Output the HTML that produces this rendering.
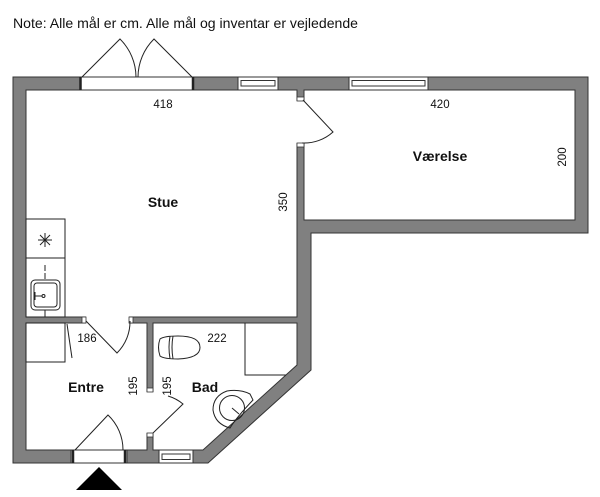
<!DOCTYPE html>
<html><head><meta charset="utf-8"><style>
html,body{margin:0;padding:0;background:#fff;}
svg{display:block;}
text{font-family:"Liberation Sans",sans-serif;fill:#111;}
</style></head><body>
<svg width="600" height="497" viewBox="0 0 600 497" xmlns="http://www.w3.org/2000/svg">
<rect width="600" height="497" fill="#fff"/>
<text x="13" y="28" font-size="14" textLength="345" lengthAdjust="spacingAndGlyphs">Note: Alle mål er cm. Alle mål og inventar er vejledende</text>

<!-- outer wall mass -->
<path d="M13,77 L588,77 L588,233 L311,233 L311,370 L208,463 L13,463 Z" fill="#808080" stroke="#333" stroke-width="1"/>

<!-- rooms -->
<g fill="#fff" stroke="#333" stroke-width="1">
<rect x="304" y="90" width="271" height="130"/>
<rect x="26" y="90" width="271" height="227"/>
<rect x="26" y="323" width="121" height="127"/>
<path d="M153,323 L297,323 L297,365 L203,450 L153,450 Z"/>
</g>

<!-- openings in interior walls -->
<g fill="#fff" stroke="none">
<rect x="296.5" y="101" width="8" height="42"/>
<rect x="86" y="316.5" width="43" height="7"/>
<rect x="146.5" y="392" width="7" height="41"/>
</g>
<!-- jambs -->
<g fill="#fff" stroke="#333" stroke-width="0.8">
<rect x="297" y="97" width="7" height="4"/>
<rect x="297" y="143" width="7" height="4"/>
<rect x="82" y="317" width="4" height="6"/>
<rect x="129" y="317" width="4" height="6"/>
<rect x="147" y="388" width="6" height="4"/>
<rect x="147" y="433" width="6" height="4"/>
</g>

<!-- top double door frame -->
<rect x="81" y="77" width="112" height="13" fill="#fff" stroke="#333" stroke-width="1"/>
<line x1="80.5" y1="77" x2="80.5" y2="90" stroke="#222" stroke-width="2.5"/>
<line x1="193" y1="77" x2="193" y2="90" stroke="#222" stroke-width="2.5"/>
<!-- windows -->
<g fill="#fff" stroke="#333" stroke-width="1">
<rect x="238" y="77" width="40" height="13"/>
<rect x="241" y="80.5" width="34" height="5.5"/>
<rect x="349" y="77" width="79" height="13"/>
<rect x="352" y="80.5" width="73" height="5.5"/>
<rect x="159" y="450" width="34" height="13"/>
<rect x="162" y="454" width="28" height="5.5"/>
</g>
<!-- entry door frame -->
<rect x="71" y="450" width="56" height="13" fill="#fff" stroke="#333" stroke-width="1"/>
<line x1="73" y1="450" x2="73" y2="463" stroke="#222" stroke-width="2.5"/>
<line x1="125" y1="450" x2="125" y2="463" stroke="#222" stroke-width="2.5"/>

<!-- door swings -->
<g fill="none" stroke="#222" stroke-width="1">
<path d="M82,77 L120,39 A54,54 0 0,1 136,77"/>
<path d="M192,77 L154,39 A54,54 0 0,0 138,77"/>
<path d="M303,100 L333,132 A43,43 0 0,1 302,143"/>
<path d="M86,321 L117,353 A44,44 0 0,0 130,321"/>
<path d="M75,450 L108,415 A48,48 0 0,1 123,450"/>
<path d="M153,433 L183,404 A42,42 0 0,0 168,396"/>
</g>

<!-- Entre cabinet -->
<g fill="none" stroke="#222" stroke-width="1">
<rect x="26" y="323" width="39" height="39"/>
<line x1="67" y1="324" x2="72" y2="358"/>
</g>

<!-- kitchen -->
<g fill="none" stroke="#222" stroke-width="1">
<rect x="26" y="219" width="39" height="39"/>
<rect x="26" y="258" width="39" height="59"/>
<line x1="38" y1="240" x2="52" y2="240"/>
<line x1="45" y1="233" x2="45" y2="247"/>
<line x1="40" y1="235" x2="50" y2="245"/>
<line x1="50" y1="235" x2="40" y2="245"/>
<line x1="45" y1="265" x2="45" y2="271"/>
<line x1="45" y1="273" x2="45" y2="279"/>
<rect x="31" y="280" width="29" height="30" rx="4"/>
<rect x="34" y="283" width="23" height="24" rx="3"/>
<line x1="34" y1="296" x2="42" y2="296"/>
<circle cx="43.5" cy="296" r="1.5"/>
<line x1="35" y1="292" x2="35" y2="300"/>
<line x1="45" y1="310" x2="45" y2="317"/>
</g>

<!-- bathroom fixtures -->
<g fill="none" stroke="#222" stroke-width="1">
<path d="M160,339 Q157,347 160,356 Q164,359 178,359 Q200,358 200,347.5 Q200,336 178,336 Q164,336 160,339 Z"/>
<path d="M170,336.5 Q168,347 170,358.5"/>
<path d="M173,336.2 Q171,347 173,358.8"/>
<polyline points="245,323 245,375 286,375"/>
<path d="M250,394 Q240,389 227,391 Q213,396 213,410 Q215,424 230,428 Q236,418 253,400 Z"/>
<circle cx="232" cy="408" r="12.5"/>
<line x1="232" y1="408" x2="239" y2="414"/>
</g>

<!-- entrance arrow -->
<polygon points="76,490 122,490 99,467" fill="#000"/>

<!-- labels -->
<g font-size="11.5">
<text x="163" y="108" text-anchor="middle">418</text>
<text x="440" y="108" text-anchor="middle">420</text>
<text x="87" y="342" text-anchor="middle">186</text>
<text x="217" y="342" text-anchor="middle">222</text>
<text transform="translate(287,202) rotate(-90)" text-anchor="middle">350</text>
<text transform="translate(566,157) rotate(-90)" text-anchor="middle">200</text>
<text transform="translate(137,386) rotate(-90)" text-anchor="middle">195</text>
<text transform="translate(171,386) rotate(-90)" text-anchor="middle">195</text>
</g>
<g font-size="14" font-weight="bold">
<text x="163" y="207" text-anchor="middle">Stue</text>
<text x="440" y="161" text-anchor="middle">Værelse</text>
<text x="86" y="392" text-anchor="middle">Entre</text>
<text x="205" y="392" text-anchor="middle">Bad</text>
</g>
</svg>
</body></html>
